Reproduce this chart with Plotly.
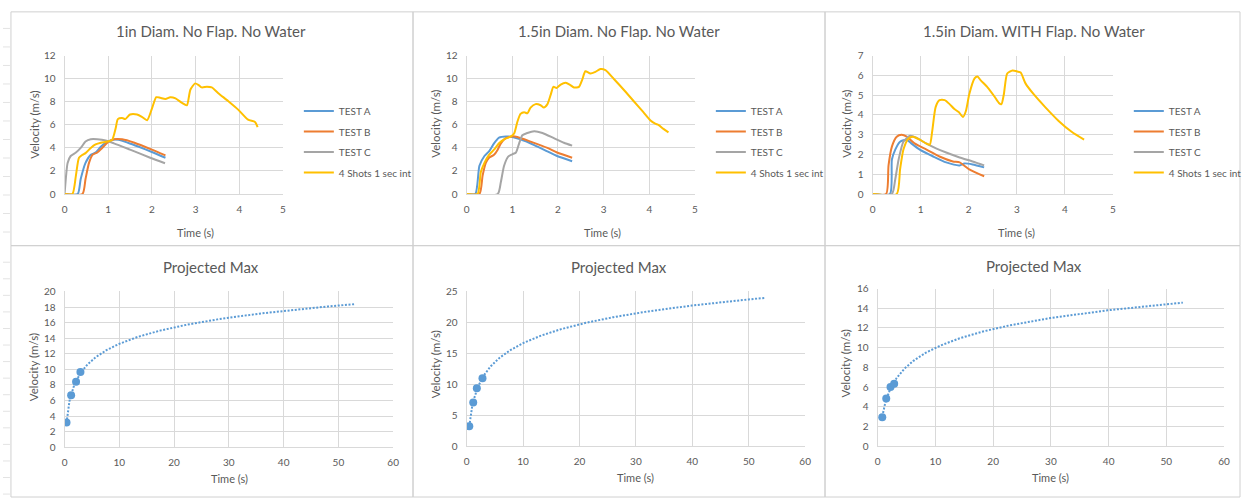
import numpy as np
import plotly.graph_objects as go

BLUE = "#5B9BD5"; ORANGE = "#ED7D31"; GRAY = "#A5A5A5"; YELLOW = "#FFC000"
TXT = "#595959"; GRID = "#D9D9D9"; FRAME = "#D0D0D0"
FONT = "Lato"
W, H = 1247, 503

series_names = ["TEST A", "TEST B", "TEST C", "4 Shots 1 sec int"]
series_colors = [BLUE, ORANGE, GRAY, YELLOW]
top_titles = ["1in Diam. No Flap. No Water", "1.5in Diam. No Flap. No Water",
              "1.5in Diam. WITH Flap. No Water"]
bottom_title = "Projected Max"

# ---------------- Panel 1: 1in Diam. No Flap ----------------
p1_a_t = [0, 0.30, 0.37, 0.48, 0.60, 0.71, 0.83, 0.94, 1.09, 1.24, 1.45, 1.70, 2.00, 2.31]
p1_a_v = [0, 0, 1.3, 2.7, 3.4, 3.6, 4.1, 4.45, 4.7, 4.7, 4.45, 4.1, 3.65, 3.15]
p1_b_t = [0, 0.41, 0.48, 0.56, 0.64, 0.75, 0.86, 0.98, 1.13, 1.32, 1.60, 2.00, 2.31]
p1_b_v = [0, 0, 1.3, 2.7, 3.4, 3.6, 4.0, 4.45, 4.75, 4.75, 4.45, 3.85, 3.35]
p1_c_t = [0, 0.04, 0.07, 0.14, 0.26, 0.37, 0.48, 0.60, 0.75, 0.94, 1.13, 1.50, 1.96, 2.30]
p1_c_v = [0, 1.8, 2.7, 3.3, 3.6, 4.0, 4.55, 4.75, 4.75, 4.65, 4.4, 3.85, 3.15, 2.67]
p1_d_t = [0, 0.18, 0.26, 0.33, 0.41, 0.48, 0.60, 0.71, 0.83, 0.98, 1.09, 1.17, 1.22,
          1.32, 1.39, 1.50, 1.66, 1.77, 1.89, 2.00, 2.10, 2.19, 2.31, 2.42, 2.54,
          2.69, 2.80, 2.88, 2.99, 3.07, 3.14, 3.26, 3.37, 3.52, 3.75, 3.98, 4.20,
          4.36, 4.42]
p1_d_v = [0, 0, 1.6, 3.15, 3.4, 3.55, 4.0, 4.3, 4.45, 4.55, 4.7, 5.7, 6.5,
          6.6, 6.5, 6.9, 6.9, 6.7, 6.4, 7.4, 8.4, 8.35, 8.25, 8.4, 8.3,
          7.9, 7.7, 9.05, 9.6, 9.45, 9.25, 9.3, 9.25, 8.75, 8.05, 7.3, 6.45,
          6.25, 5.8]

# ---------------- Panel 2: 1.5in Diam. No Flap ----------------
p2_a_t = [0, 0.19, 0.28, 0.39, 0.49, 0.60, 0.71, 0.86, 1.00, 1.18, 1.48, 1.77, 1.98, 2.31]
p2_a_v = [0, 0, 2.45, 3.3, 3.7, 4.4, 4.9, 5.0, 4.95, 4.75, 4.25, 3.7, 3.3, 2.85]
p2_b_t = [0, 0.28, 0.35, 0.42, 0.49, 0.60, 0.68, 0.75, 0.86, 1.00, 1.11, 1.40, 1.77, 1.98, 2.31]
p2_b_v = [0, 0, 1.6, 2.7, 3.15, 3.4, 3.85, 4.4, 4.85, 5.0, 4.95, 4.55, 4.0, 3.6, 3.15]
p2_c_t = [0, 0.68, 0.75, 0.82, 0.91, 1.00, 1.08, 1.15, 1.22, 1.33, 1.48, 1.66, 1.91, 2.13, 2.31]
p2_c_v = [0, 0, 1.05, 2.45, 3.25, 3.45, 3.6, 4.4, 5.1, 5.3, 5.45, 5.3, 4.85, 4.45, 4.2]
p2_d_t = [0, 0.24, 0.31, 0.39, 0.49, 0.60, 0.71, 0.82, 0.97, 1.04, 1.11, 1.18, 1.26,
          1.33, 1.40, 1.51, 1.62, 1.69, 1.77, 1.84, 1.90, 1.97, 2.06, 2.17, 2.27,
          2.35, 2.46, 2.53, 2.60, 2.71, 2.82, 2.93, 3.04, 3.22, 3.44, 3.66, 3.87,
          4.02, 4.13, 4.20, 4.31, 4.42]
p2_d_v = [0, 0, 1.9, 2.7, 3.4, 3.85, 4.4, 4.75, 5.0, 5.25, 6.25, 6.95, 7.1,
          7.0, 7.5, 7.8, 7.7, 7.5, 7.8, 8.6, 9.3, 9.2, 9.5, 9.65, 9.45,
          9.25, 9.3, 9.9, 10.65, 10.45, 10.6, 10.85, 10.75, 10.0, 9.05, 8.05, 7.1,
          6.4, 6.1, 6.0, 5.65, 5.35]

# ---------------- Panel 3: 1.5in Diam. WITH Flap ----------------
p3_a_t = [0, 0.36, 0.40, 0.47, 0.57, 0.71, 0.81, 0.98, 1.26, 1.53, 1.81, 1.91, 2.08, 2.32]
p3_a_v = [0, 0, 1.75, 2.25, 2.65, 2.75, 2.55, 2.25, 1.9, 1.6, 1.45, 1.55, 1.5, 1.35]
p3_b_t = [0, 0.28, 0.33, 0.40, 0.50, 0.60, 0.71, 0.88, 1.12, 1.39, 1.67, 1.81, 2.01, 2.32]
p3_b_v = [0, 0, 1.45, 2.4, 2.9, 3.0, 2.9, 2.55, 2.25, 1.9, 1.65, 1.6, 1.25, 0.9]
p3_c_t = [0, 0.40, 0.47, 0.54, 0.64, 0.78, 0.91, 1.12, 1.33, 1.53, 1.81, 2.08, 2.32]
p3_c_v = [0, 0, 0.75, 1.75, 2.65, 2.95, 2.85, 2.55, 2.3, 2.1, 1.85, 1.65, 1.45]
p3_d_t = [0, 0.50, 0.57, 0.64, 0.74, 0.84, 0.98, 1.12, 1.19, 1.24, 1.31, 1.39, 1.50,
          1.60, 1.70, 1.79, 1.88, 1.94, 2.01, 2.12, 2.18, 2.25, 2.39, 2.53, 2.63,
          2.68, 2.73, 2.80, 2.91, 3.01, 3.08, 3.18, 3.35, 3.59, 3.87, 4.14, 4.40]
p3_d_v = [0, 0, 1.25, 2.25, 2.8, 2.9, 2.75, 2.55, 2.5, 3.2, 4.4, 4.75, 4.75,
          4.55, 4.3, 4.15, 3.9, 4.2, 5.05, 5.85, 5.95, 5.75, 5.4, 4.95, 4.6,
          4.55, 5.05, 6.1, 6.25, 6.2, 6.15, 5.6, 5.05, 4.4, 3.7, 3.15, 2.75]

# ---------------- Projected max (peak points) ----------------
p4_t = [0.36, 1.20, 2.10, 2.90]
p4_v = [3.2, 6.67, 8.4, 9.67]
p5_t = [0.47, 1.17, 1.81, 2.81]
p5_v = [3.25, 7.07, 9.37, 10.99]
p6_t = [0.80, 1.49, 2.23, 2.86]
p6_v = [2.94, 4.86, 6.02, 6.35]
forecast_forward = 50  # trendline forecast (s)

top_data = [
    [(p1_a_t, p1_a_v), (p1_b_t, p1_b_v), (p1_c_t, p1_c_v), (p1_d_t, p1_d_v)],
    [(p2_a_t, p2_a_v), (p2_b_t, p2_b_v), (p2_c_t, p2_c_v), (p2_d_t, p2_d_v)],
    [(p3_a_t, p3_a_v), (p3_b_t, p3_b_v), (p3_c_t, p3_c_v), (p3_d_t, p3_d_v)],
]
top_yrange = [(12, 2), (12, 2), (7, 1)]
bottom_data = [(p4_t, p4_v), (p5_t, p5_v), (p6_t, p6_v)]
bottom_yrange = [(20, 2), (25, 5), (16, 2)]

# ---------------- layout geometry (pixels) ----------------
top_px = [(62, 282), (467, 697), (876, 1118)]
top_py = (50, 192)
bot_px = [(62, 393), (467, 808), (881, 1230)]
bot_py = [(292, 452), (292, 451), (289, 451)]
top_title_pos = [(210, 25), (620, 25), (1038, 25)]
bot_title_pos = [(210, 267), (620, 267), (1038, 266)]
top_xt_pos = [(194, 231), (604, 231), (1021, 231)]
bot_xt_pos = [(228, 484), (637, 483), (1055, 483)]
top_yt_pos = [(32, 121), (436, 120), (850, 120)]
bot_yt_pos = [(31, 370), (436, 367), (849, 366)]
legend_pos = [(298, 92), (713, 92), (1134, 92)]


def px(x):
    return x / W


def py(y):
    return 1 - y / H


fig = go.Figure()
layout = dict(
    width=W, height=H, margin=dict(l=0, r=0, t=0, b=0),
    paper_bgcolor="white", plot_bgcolor="white",
    font=dict(family=FONT, color=TXT, size=10),
    showlegend=True,
)
annotations = []
shapes = []


def axis_common():
    return dict(showgrid=True, gridcolor=GRID, gridwidth=1, zeroline=False,
                showline=True, linecolor=GRID, linewidth=1, ticks="",
                tickfont=dict(family=FONT, size=10, color=TXT),
                ticklabelstandoff=6, fixedrange=True)


for i in range(3):
    n = i + 1
    xa = "x" if n == 1 else f"x{n}"
    ya = "y" if n == 1 else f"y{n}"
    lg = "legend" if n == 1 else f"legend{n}"
    for k, (t, v) in enumerate(top_data[i]):
        fig.add_trace(go.Scatter(
            x=t, y=v, mode="lines", name=series_names[k],
            legendgroup=f"p{n}s{k}",
            line=dict(color=series_colors[k], width=2, shape="spline", smoothing=0.6),
            xaxis=xa, yaxis=ya, legend=lg, showlegend=True, hoverinfo="skip"))
    xk = "xaxis" if n == 1 else f"xaxis{n}"
    yk = "yaxis" if n == 1 else f"yaxis{n}"
    ax = axis_common()
    ax.update(domain=[px(top_px[i][0]), px(top_px[i][1])], range=[0, 5], dtick=1,
              anchor=ya)
    ay = axis_common()
    ay.update(domain=[py(top_py[1]), py(top_py[0])], range=[0, top_yrange[i][0]],
              dtick=top_yrange[i][1], anchor=xa)
    layout[xk] = ax
    layout[yk] = ay
    lx, ly = legend_pos[i]
    layout[lg] = dict(x=px(lx), y=py(ly), xanchor="left", yanchor="top",
                      xref="paper", yref="paper",
                      bgcolor="rgba(0,0,0,0)", borderwidth=0,
                      font=dict(family=FONT, size=10, color=TXT),
                      itemwidth=30, traceorder="grouped", tracegroupgap=1.5)
    annotations.append(dict(text=top_titles[i], x=px(top_title_pos[i][0]),
                            y=py(top_title_pos[i][1]), xref="paper", yref="paper",
                            showarrow=False, xanchor="center", yanchor="middle",
                            font=dict(family=FONT, size=15, color=TXT)))
    annotations.append(dict(text="Time (s)", x=px(top_xt_pos[i][0]),
                            y=py(top_xt_pos[i][1]), xref="paper", yref="paper",
                            showarrow=False, xanchor="center", yanchor="middle",
                            font=dict(family=FONT, size=11, color=TXT)))
    annotations.append(dict(text="Velocity (m/s)", x=px(top_yt_pos[i][0]),
                            y=py(top_yt_pos[i][1]), xref="paper", yref="paper",
                            showarrow=False, xanchor="center", yanchor="middle",
                            textangle=-90,
                            font=dict(family=FONT, size=11.5, color=TXT)))

for i in range(3):
    n = i + 4
    xa, ya = f"x{n}", f"y{n}"
    t, v = bottom_data[i]
    t_arr = np.array(t); v_arr = np.array(v)
    a, b = np.polyfit(np.log(t_arr), v_arr, 1)
    xt = np.linspace(t_arr.min(), t_arr.max() + forecast_forward, 300)
    fig.add_trace(go.Scatter(
        x=xt, y=a * np.log(xt) + b, mode="lines",
        line=dict(color=BLUE, width=2, dash="2px,1.6px"),
        xaxis=xa, yaxis=ya, showlegend=False, hoverinfo="skip"))
    fig.add_trace(go.Scatter(
        x=t, y=v, mode="markers",
        marker=dict(color=BLUE, size=8, symbol="circle"),
        xaxis=xa, yaxis=ya, showlegend=False, hoverinfo="skip"))
    ax = axis_common()
    ax.update(domain=[px(bot_px[i][0]), px(bot_px[i][1])], range=[0, 60], dtick=10,
              anchor=ya)
    ay = axis_common()
    ay.update(domain=[py(bot_py[i][1]), py(bot_py[i][0])], range=[0, bottom_yrange[i][0]],
              dtick=bottom_yrange[i][1], anchor=xa)
    layout[f"xaxis{n}"] = ax
    layout[f"yaxis{n}"] = ay
    annotations.append(dict(text=bottom_title, x=px(bot_title_pos[i][0]),
                            y=py(bot_title_pos[i][1]), xref="paper", yref="paper",
                            showarrow=False, xanchor="center", yanchor="middle",
                            font=dict(family=FONT, size=15, color=TXT)))
    annotations.append(dict(text="Time (s)", x=px(bot_xt_pos[i][0]),
                            y=py(bot_xt_pos[i][1]), xref="paper", yref="paper",
                            showarrow=False, xanchor="center", yanchor="middle",
                            font=dict(family=FONT, size=11, color=TXT)))
    annotations.append(dict(text="Velocity (m/s)", x=px(bot_yt_pos[i][0]),
                            y=py(bot_yt_pos[i][1]), xref="paper", yref="paper",
                            showarrow=False, xanchor="center", yanchor="middle",
                            textangle=-90,
                            font=dict(family=FONT, size=11.5, color=TXT)))

# chart-area frames (spreadsheet cell borders)
for (x0, x1) in [(8, 413), (413, 828), (828, 1246)]:
    for (y0, y1) in [(5, 245), (245, 503)]:
        shapes.append(dict(type="rect", xref="paper", yref="paper",
                           x0=px(x0), x1=px(x1), y0=py(y1), y1=py(y0),
                           line=dict(color=FRAME, width=1), fillcolor="rgba(0,0,0,0)",
                           layer="below"))
# row lines of the sheet visible at the left edge
for yy in list(range(22, 245, 19)) + list(range(262, 503, 17)):
    shapes.append(dict(type="line", xref="paper", yref="paper",
                       x0=0, x1=px(7), y0=py(yy), y1=py(yy),
                       line=dict(color="#E3E3E3", width=1), layer="below"))

layout["annotations"] = annotations
layout["shapes"] = shapes
fig.update_layout(**layout)
fig.write_html(
    "out.html",
    config={"displayModeBar": False},
    post_script="document.body.style.margin='0';document.body.style.overflow='hidden';",
)
